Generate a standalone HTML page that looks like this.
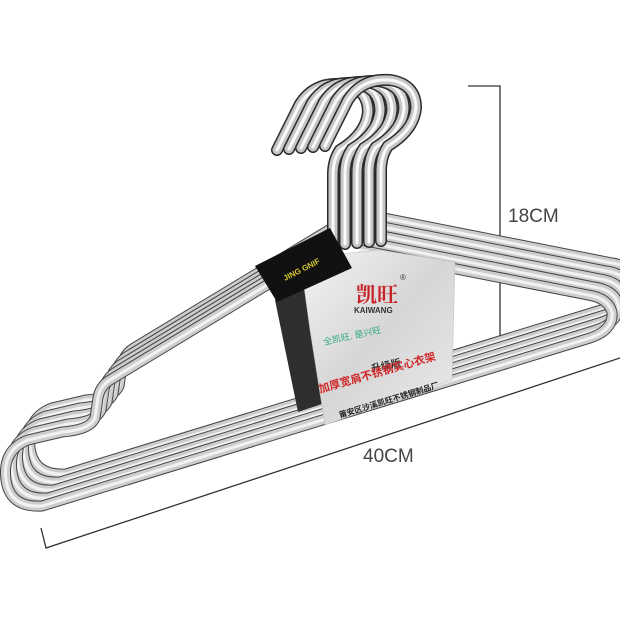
<!DOCTYPE html>
<html><head><meta charset="utf-8"><style>
html,body{margin:0;padding:0;background:#fff;}
svg{display:block;}
</style></head><body>
<svg width="620" height="620" viewBox="0 0 620 620" xmlns="http://www.w3.org/2000/svg">
<defs>
<linearGradient id="card" x1="0" y1="0" x2="1" y2="1">
<stop offset="0" stop-color="#f4f4f4"/><stop offset="0.5" stop-color="#d6d6d6"/><stop offset="1" stop-color="#eaeaea"/>
</linearGradient>
<path id="bp" d="M333,245 L110,380 Q100,386 98,398 L95,418 Q90,430 62,432 L28,440 Q2,450 6,480 Q10,508 42,506 L590,338 Q614,330 612,312 Q608,298 588,295 L360,250"/>
<g id="body">
<use href="#bp" fill="none" stroke="#444" stroke-width="11" stroke-linejoin="round"/>
<use href="#bp" fill="none" stroke="#cdcdcd" stroke-width="9" stroke-linejoin="round"/>
<use href="#bp" fill="none" stroke="#f2f2f2" stroke-width="3" stroke-linejoin="round"/>
</g>
<path id="hp" d="M277,150 L300,104 Q314,82 342,84 Q368,88 368,112 Q366,134 340,150 Q333,160 333,175 L333,245"/>
<g id="hook">
<use href="#hp" fill="none" stroke="#2a2a2a" stroke-width="12" stroke-linecap="round"/>
<use href="#hp" fill="none" stroke="#c6c6c6" stroke-width="9" stroke-linecap="round"/>
<use href="#hp" fill="none" stroke="#fafafa" stroke-width="3" stroke-linecap="round"/>
</g>
</defs>
<g stroke="#333" stroke-width="1.3" fill="none">
<path d="M468,86 L500,86 L500,345 L470,345"/>
<path d="M41,528 L46,548 L620,358"/>
</g>
<text x="508" y="222" font-family="Liberation Sans, sans-serif" font-size="19" fill="#444">18CM</text>
<text x="363" y="462" font-family="Liberation Sans, sans-serif" font-size="19" fill="#444">40CM</text>
<use href="#body" transform="translate(24,-32)"/>
<use href="#body" transform="translate(18,-24)"/>
<use href="#body" transform="translate(12,-16)"/>
<use href="#body" transform="translate(6,-8)"/>
<use href="#body"/>
<use href="#hook" transform="translate(0,0)"/>
<use href="#hook" transform="translate(12,-1)"/>
<use href="#hook" transform="translate(24,-2)"/>
<use href="#hook" transform="translate(36,-3)"/>
<use href="#hook" transform="translate(48,-4)"/>
<polygon points="275,300 305,285 328,402 298,412" fill="#2e2e2e"/>
<polygon points="300,258 380,250 455,262 452,380 325,425 310,330" fill="url(#card)" stroke="#bbb" stroke-width="0.5"/>
<polygon points="255,266 330,228 352,268 277,302" fill="#111"/>
<text transform="translate(285,281) rotate(-27)" font-family="Liberation Sans, sans-serif" font-size="8" fill="#d9cc30" font-weight="bold">JING GNIF</text>
<text x="356" y="302" font-family="Liberation Serif, 'Noto Serif CJK SC', serif" font-size="21" font-weight="bold" fill="#c8242a">凯旺</text>
<text x="400" y="280" font-family="Liberation Sans, sans-serif" font-size="8" fill="#333">®</text>
<text x="354" y="313" font-family="Liberation Sans, sans-serif" font-size="8" font-weight="bold" fill="#333">KAIWANG</text>
<text transform="translate(324,345) rotate(-12)" font-family="Liberation Sans, 'Noto Sans CJK SC', sans-serif" font-size="9" fill="#3a8">全凯旺. 是兴旺</text>
<text transform="translate(372,372) rotate(-12)" font-family="Liberation Sans, 'Noto Sans CJK SC', sans-serif" font-size="10" font-weight="bold" fill="#333">升级版</text>
<text transform="translate(320,393) rotate(-16)" font-family="Liberation Sans, 'Noto Sans CJK SC', sans-serif" font-size="11" font-weight="bold" fill="#d02828">加厚宽肩不锈钢实心衣架</text>
<text transform="translate(340,418) rotate(-17)" font-family="Liberation Sans, 'Noto Sans CJK SC', sans-serif" font-size="8" font-weight="bold" fill="#222">莆安区沙溪凯旺不锈钢制品厂</text>
</svg>
</body></html>
